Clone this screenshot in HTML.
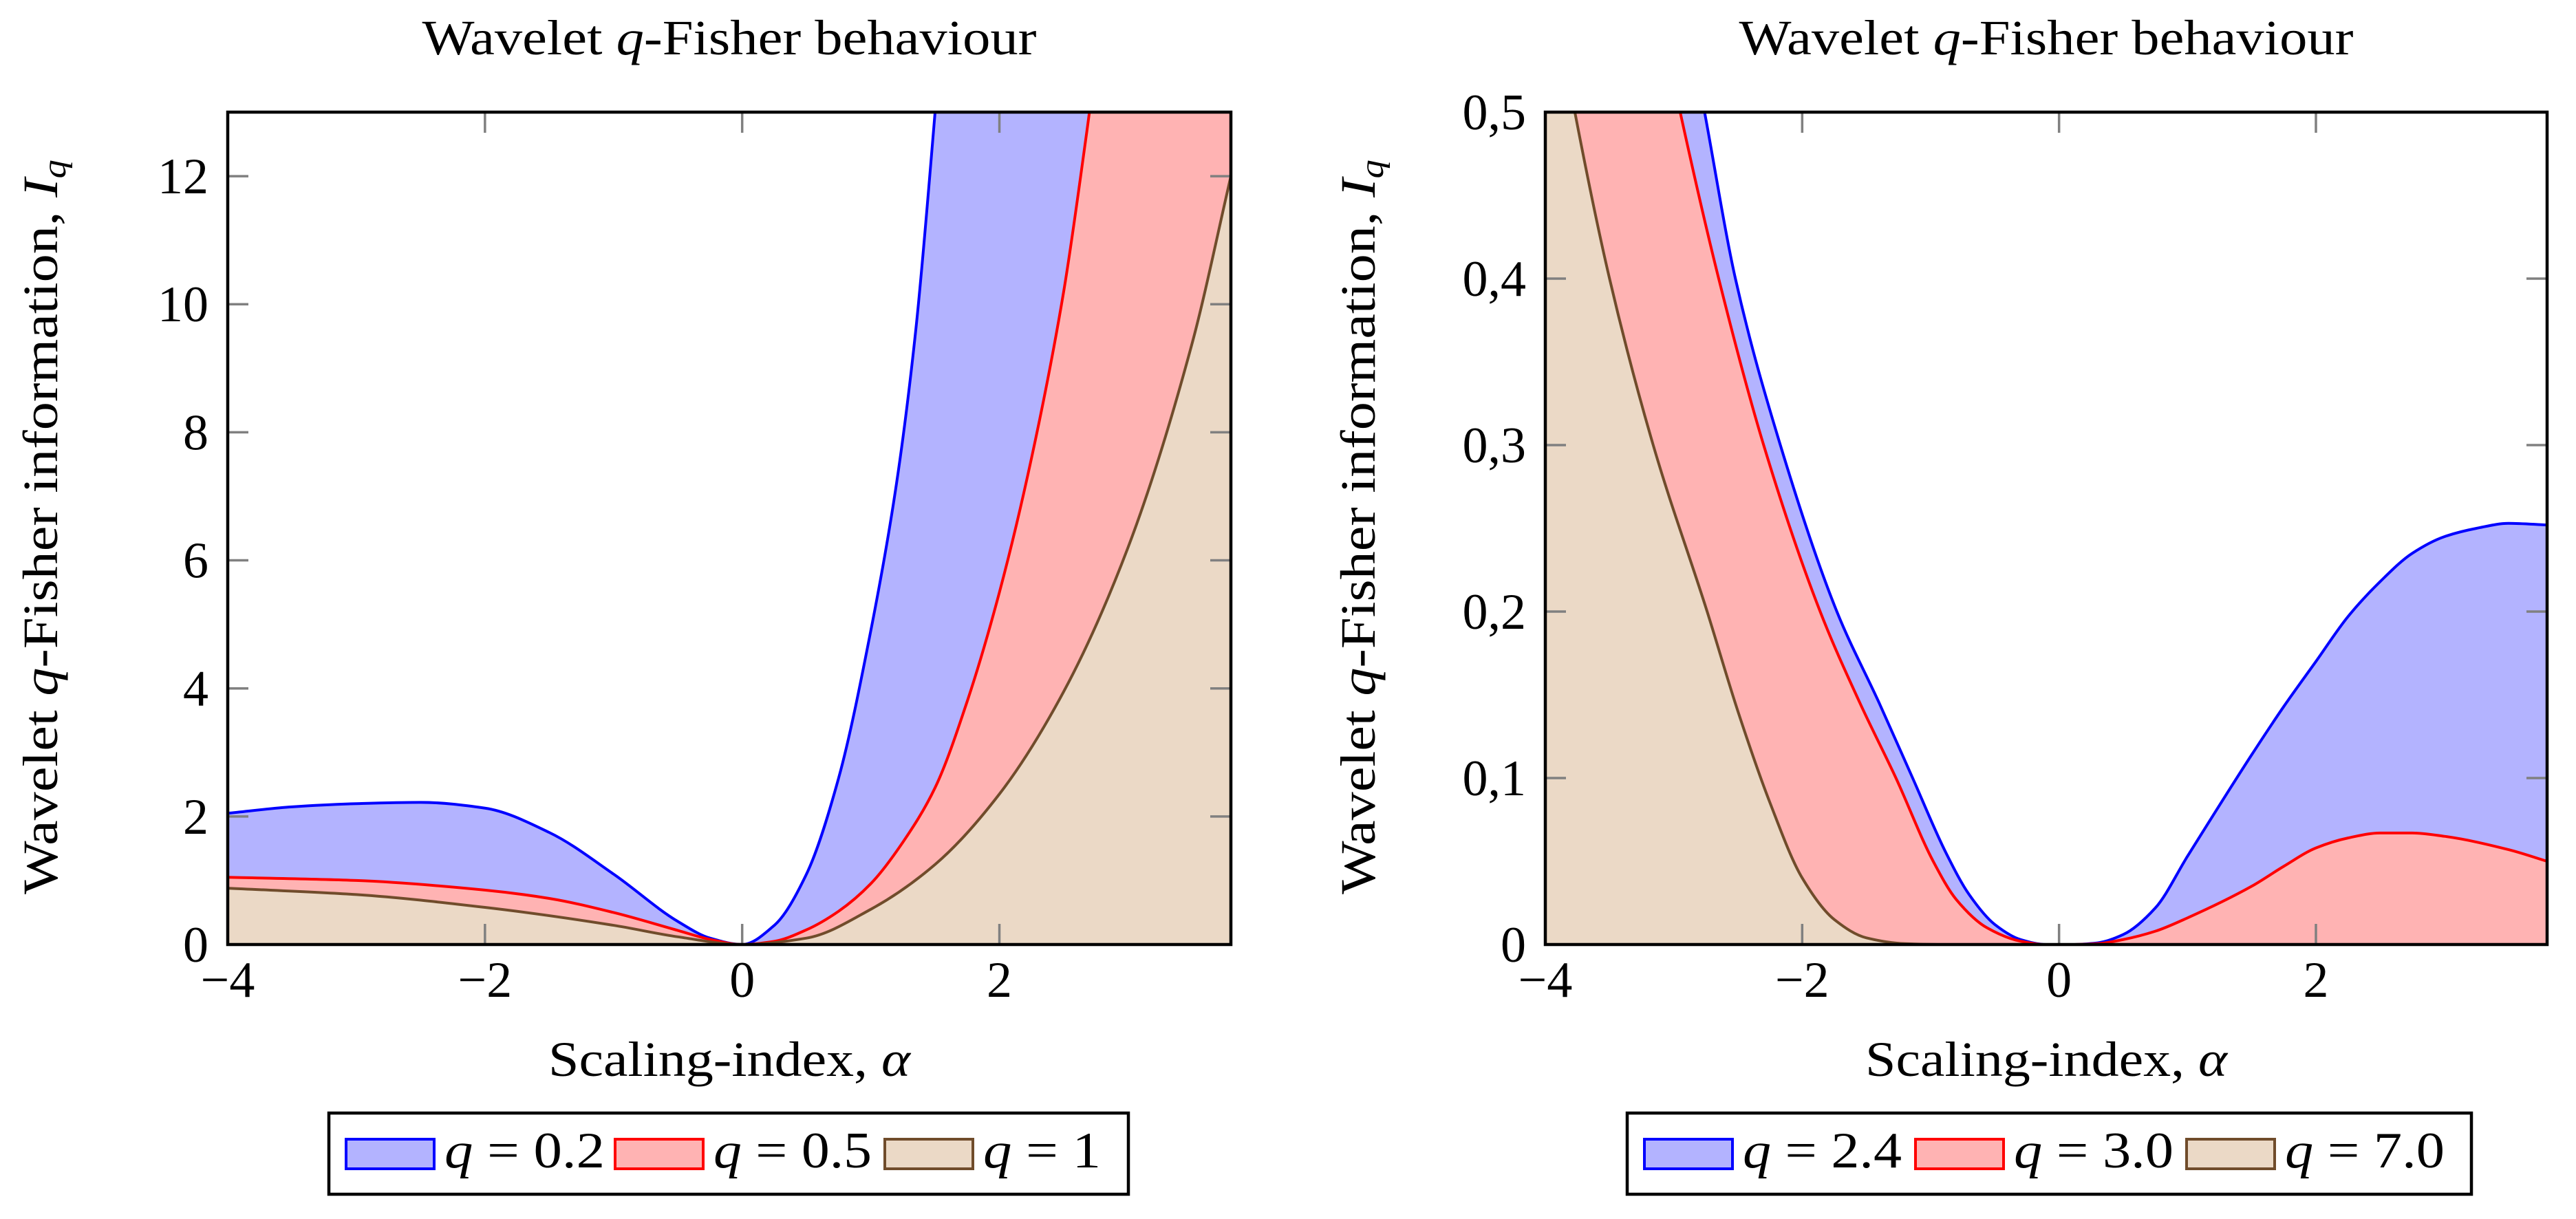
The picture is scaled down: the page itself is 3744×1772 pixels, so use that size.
<!DOCTYPE html>
<html><head><meta charset="utf-8"><style>
html,body{margin:0;padding:0;background:#fff;}
svg{display:block;font-family:"Liberation Serif","DejaVu Serif",serif;}
</style></head><body>
<svg id="fig" width="3744" height="1772" viewBox="0 0 3744 1772" xmlns="http://www.w3.org/2000/svg"></svg>
<script>
// ---------- Left chart data ----------
const leftXTicks = [-4, -2, 0, 2];
const leftYTicks = [0, 2, 4, 6, 8, 10, 12];
const leftYTickLabels = ["0", "2", "4", "6", "8", "10", "12"];
const leftSeriesNames = ["q = 0.2", "q = 0.5", "q = 1"];
const leftQ02X = [-4, -3.5, -3, -2.5, -2, -1.5, -1, -0.5, -0.25, 0, 0.25, 0.5, 0.75, 1.0, 1.2, 1.35, 1.5, 1.6];
const leftQ02Y = [2.05, 2.15, 2.2, 2.22, 2.13, 1.75, 1.1, 0.36, 0.1, 0, 0.3, 1.1, 2.6, 4.9, 7.2, 9.6, 13.0, 15.5];
const leftQ05X = [-4, -3, -2, -1.5, -1, -0.5, -0.25, 0, 0.25, 0.5, 0.75, 1.0, 1.25, 1.5, 1.75, 2.0, 2.25, 2.5, 2.68, 2.8];
const leftQ05Y = [1.05, 1.0, 0.85, 0.72, 0.5, 0.22, 0.08, 0, 0.05, 0.23, 0.52, 0.95, 1.6, 2.45, 3.8, 5.5, 7.6, 10.2, 12.7, 14.5];
const leftQ1X = [-4, -3, -2, -1, -0.5, 0, 0.5, 1, 1.5, 2, 2.5, 3, 3.5, 3.8];
const leftQ1Y = [0.88, 0.78, 0.58, 0.3, 0.12, 0, 0.1, 0.55, 1.25, 2.35, 3.95, 6.2, 9.4, 12.0];

// ---------- Right chart data ----------
const rightXTicks = [-4, -2, 0, 2];
const rightYTicks = [0, 0.1, 0.2, 0.3, 0.4, 0.5];
const rightYTickLabels = ["0", "0,1", "0,2", "0,3", "0,4", "0,5"];
const rightSeriesNames = ["q = 2.4", "q = 3.0", "q = 7.0"];
const rightQ24X = [-4, -3.2, -2.76, -2.52, -2.17, -1.73, -1.4, -1.14, -0.88, -0.7, -0.5, -0.3, -0.1, 0.1, 0.3, 0.5, 0.75, 1.0, 1.5, 1.75, 2.0, 2.25, 2.5, 2.75, 3.0, 3.25, 3.5, 3.8];
const rightQ24Y = [1.0, 0.68, 0.5, 0.4, 0.3, 0.2, 0.145, 0.1, 0.055, 0.03, 0.012, 0.003, 0, 0, 0.001, 0.006, 0.022, 0.053, 0.114, 0.143, 0.17, 0.197, 0.218, 0.235, 0.245, 0.25, 0.253, 0.252];
const rightQ30X = [-4, -3.4, -2.95, -2.65, -2.3, -1.86, -1.55, -1.27, -0.98, -0.8, -0.56, -0.3, -0.1, 0.1, 0.3, 0.5, 0.75, 1.0, 1.5, 1.75, 2.0, 2.25, 2.5, 2.75, 3.0, 3.5, 3.8];
const rightQ30Y = [0.9, 0.67, 0.5, 0.4, 0.3, 0.2, 0.145, 0.1, 0.05, 0.027, 0.01, 0.002, 0, 0, 0.0005, 0.003, 0.008, 0.016, 0.035, 0.047, 0.058, 0.064, 0.067, 0.067, 0.065, 0.057, 0.05];
const rightQ70X = [-4, -3.77, -3.5, -3.16, -2.74, -2.5, -2.25, -2.0, -1.75, -1.5, -1.2, -0.9, 0, 1, 2, 3, 3.8];
const rightQ70Y = [0.6, 0.5, 0.4, 0.3, 0.2, 0.14, 0.085, 0.04, 0.015, 0.004, 0.0005, 0, 0, 0, 0, 0, 0];

const NS = "http://www.w3.org/2000/svg";
const svg = document.getElementById('fig');
function mk(tag, attrs, parent) {
  const e = document.createElementNS(NS, tag);
  for (const k in attrs) e.setAttribute(k, attrs[k]);
  (parent || svg).appendChild(e);
  return e;
}
const colors = [
  {fill: "#b3b3ff", stroke: "#0000ff"},
  {fill: "#ffb3b3", stroke: "#ff0000"},
  {fill: "#ebd9c6", stroke: "#704c2b"}
];

// monotone cubic (Fritsch-Carlson) in pixel space
function smoothPath(pts) {
  const n = pts.length;
  const dx = [], s = [];
  for (let i = 0; i < n - 1; i++) {
    dx.push(pts[i + 1][0] - pts[i][0]);
    s.push((pts[i + 1][1] - pts[i][1]) / dx[i]);
  }
  const m = new Array(n);
  m[0] = s[0]; m[n - 1] = s[n - 2];
  for (let i = 1; i < n - 1; i++) {
    if (s[i - 1] * s[i] <= 0) m[i] = 0;
    else {
      const w1 = 2 * dx[i] + dx[i - 1], w2 = dx[i] + 2 * dx[i - 1];
      m[i] = (w1 + w2) / (w1 / s[i - 1] + w2 / s[i]);
    }
  }
  let d = "M" + pts[0][0].toFixed(2) + "," + pts[0][1].toFixed(2);
  for (let i = 0; i < n - 1; i++) {
    const h = dx[i] / 3;
    d += " C" + (pts[i][0] + h).toFixed(2) + "," + (pts[i][1] + m[i] * h).toFixed(2) + " " +
      (pts[i + 1][0] - h).toFixed(2) + "," + (pts[i + 1][1] - m[i + 1] * h).toFixed(2) + " " +
      pts[i + 1][0].toFixed(2) + "," + pts[i + 1][1].toFixed(2);
  }
  return d;
}

function chart(cfg) {
  const L = cfg.left, R = cfg.right, T = 163, B = 1373;
  const xS = v => L + (v - cfg.xmin) / (cfg.xmax - cfg.xmin) * (R - L);
  const yS = v => B - (v - cfg.ymin) / (cfg.ymax - cfg.ymin) * (B - T);
  const g = mk('g', {});
  
  
  const cid = cfg.name + '-clip';
  const defs = mk('defs', {}, g);
  const cp = mk('clipPath', {id: cid}, defs);
  mk('rect', {x: L, y: T, width: R - L, height: B - T}, cp);
  const plot = mk('g', {'clip-path': 'url(#' + cid + ')'}, g);
  
  
  const paths = cfg.series.map(s => smoothPath(s.x.map((xv, i) => [xS(xv), yS(s.y[i])])));
  cfg.series.forEach((s, i) => {
    const x0 = xS(s.x[0]);
    const yl = yS(s.y[s.y.length - 1]);
    const a = mk('path', {d: paths[i] + " L" + (R + 20) + "," + yl + " L" + (R + 20) + "," + yS(0) + " L" + x0 + "," + yS(0) + " Z", fill: colors[i].fill, stroke: 'none'}, plot);
    
    
  });
  cfg.series.forEach((s, i) => {
    const l = mk('path', {d: paths[i], fill: 'none', stroke: colors[i].stroke, 'stroke-width': 4, 'stroke-linejoin': 'round'}, plot);
    
    
  });
  const tg = mk('g', {stroke: '#808080', 'stroke-width': 3.5}, g);
  
  
  cfg.xticks.forEach(v => {
    const x = xS(v);
    mk('line', {x1: x, x2: x, y1: B, y2: B - 30}, tg);
    mk('line', {x1: x, x2: x, y1: T, y2: T + 30}, tg);
  });
  cfg.yticks.forEach(v => {
    const y = yS(v);
    mk('line', {x1: L, x2: L + 30, y1: y, y2: y}, tg);
    mk('line', {x1: R, x2: R - 30, y1: y, y2: y}, tg);
  });
  const fr = mk('rect', {x: L, y: T, width: R - L, height: B - T, fill: 'none', stroke: '#000', 'stroke-width': 4.5}, g);
  
  
  cfg.xticks.forEach(v => {
    const t = mk('text', {x: xS(v), y: 1449, 'font-size': 74, 'text-anchor': 'middle'}, g);
    t.textContent = v < 0 ? '\u2212' + Math.abs(v) : String(v);
    
    
  });
  cfg.yticks.forEach((v, i) => {
    const t = mk('text', {x: L - 28, y: yS(v) + 25, 'font-size': 74, 'text-anchor': 'end'}, g);
    t.textContent = cfg.ylabels[i];
    
    
  });
  const cx = (L + R) / 2;
  const title = mk('text', {x: cx, y: 79, 'font-size': 72, 'text-anchor': 'middle', textLength: 893, lengthAdjust: 'spacingAndGlyphs'}, g);
  title.innerHTML = 'Wavelet <tspan font-style="italic">q</tspan>-Fisher behaviour';
  
  
  const xl = mk('text', {x: cx, y: 1564, 'font-size': 72, 'text-anchor': 'middle', textLength: 526, lengthAdjust: 'spacingAndGlyphs'}, g);
  xl.innerHTML = 'Scaling-index, <tspan font-style="italic">\u03B1</tspan>';
  
  
  const yl = mk('text', {x: 0, y: 0, 'font-size': 72, 'text-anchor': 'middle', transform: 'translate(' + cfg.ylabX + ',766) rotate(-90)', textLength: 1068, lengthAdjust: 'spacingAndGlyphs'}, g);
  yl.innerHTML = 'Wavelet <tspan font-style="italic">q</tspan>-Fisher information, <tspan font-style="italic">I</tspan><tspan font-style="italic" font-size="48" dy="12">q</tspan>';
  
  
  const lg = mk('g', {}, g);
  
  
  mk('rect', {x: cfg.leg.x, y: 1618, width: cfg.leg.w, height: 118, fill: '#fff', stroke: '#000', 'stroke-width': 4.5}, lg);
  cfg.series.forEach((s, i) => {
    const e = mk('g', {}, lg);
    
    
    mk('rect', {x: cfg.leg.sw[i], y: 1656, width: 128, height: 43, fill: colors[i].fill, stroke: colors[i].stroke, 'stroke-width': 4}, e);
    const t = mk('text', {x: cfg.leg.sw[i] + 143, y: 1697, 'font-size': 74, textLength: cfg.leg.tw[i], lengthAdjust: 'spacingAndGlyphs'}, e);
    const parts = s.label.split(' = ');
    t.innerHTML = '<tspan font-style="italic">' + parts[0] + '</tspan> = ' + parts[1];
  });
}

chart({
  name: 'left-chart', left: 331, right: 1789, xmin: -4, xmax: 3.8, ymin: 0, ymax: 13,
  xticks: leftXTicks, yticks: leftYTicks, ylabels: leftYTickLabels, ylabX: 83,
  series: [
    {key: 'q02', label: leftSeriesNames[0], x: leftQ02X, y: leftQ02Y},
    {key: 'q05', label: leftSeriesNames[1], x: leftQ05X, y: leftQ05Y},
    {key: 'q1', label: leftSeriesNames[2], x: leftQ1X, y: leftQ1Y}
  ],
  leg: {x: 478, w: 1162, sw: [503, 894, 1286], tw: [233, 230, 171]}
});
chart({
  name: 'right-chart', left: 2246, right: 3702, xmin: -4, xmax: 3.8, ymin: 0, ymax: 0.5,
  xticks: rightXTicks, yticks: rightYTicks, ylabels: rightYTickLabels, ylabX: 1998,
  series: [
    {key: 'q24', label: rightSeriesNames[0], x: rightQ24X, y: rightQ24Y},
    {key: 'q30', label: rightSeriesNames[1], x: rightQ30X, y: rightQ30Y},
    {key: 'q70', label: rightSeriesNames[2], x: rightQ70X, y: rightQ70Y}
  ],
  leg: {x: 2365, w: 1227, sw: [2390, 2784, 3178], tw: [231, 232, 232]}
});
</script>
</body></html>
